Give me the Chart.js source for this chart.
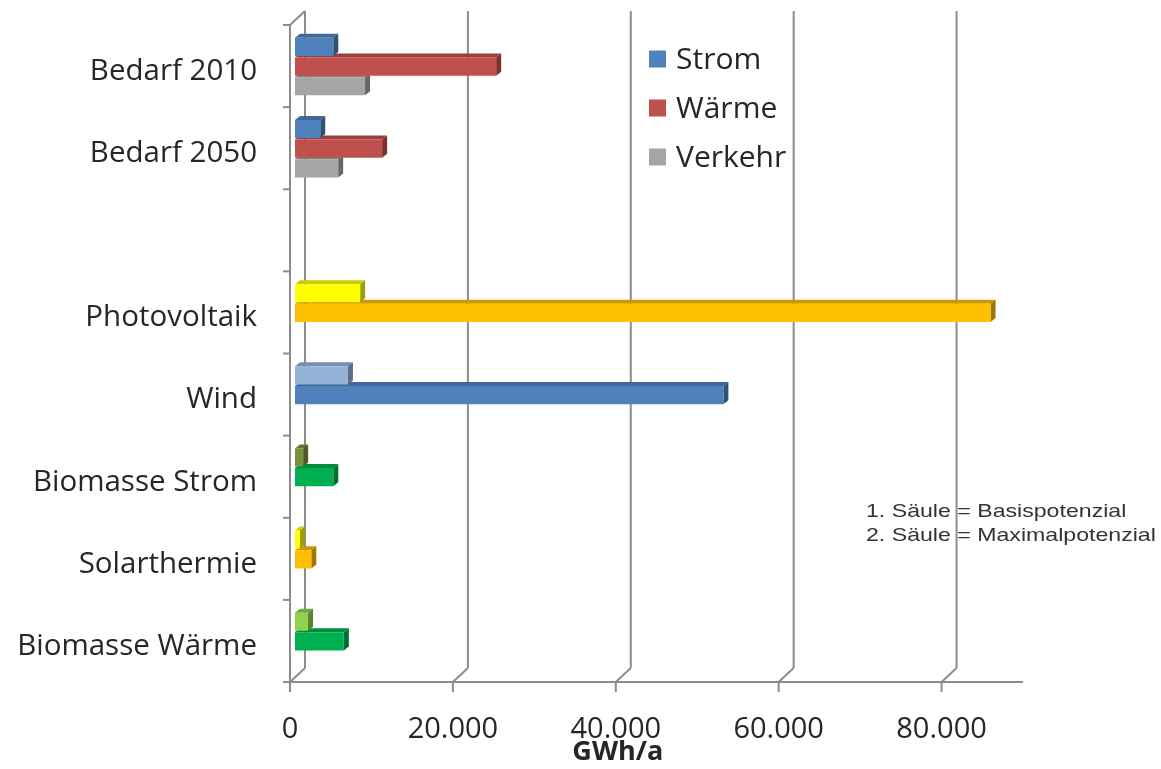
<!DOCTYPE html>
<html>
<head>
<meta charset="utf-8">
<script src="https://cdn.jsdelivr.net/npm/chart.js@4.4.1/dist/chart.umd.min.js"></script>
<style>
  html, body { margin: 0; padding: 0; background: #fff; }
  canvas { display: block; }
</style>
</head>
<body>
<canvas id="c" width="1161" height="769"></canvas>
<script>
// Energiebedarf und Erzeugungspotenziale in GWh/a
const categories = ['Bedarf 2010', 'Bedarf 2050', '', 'Photovoltaik', 'Wind',
                    'Biomasse Strom', 'Solarthermie', 'Biomasse Wärme'];
const strom            = [4700, 3100, null, null, null, null, null, null];
const waerme           = [24700, 10700, null, null, null, null, null, null];
const verkehr          = [8600, 5300, null, null, null, null, null, null];
const basispotenzial   = [null, null, null, 8000, 6500, 1000, 600, 1600];
const maximalpotenzial = [null, null, null, 85400, 52600, 4700, 2000, 6000];
const xTicks = [0, 20000, 40000, 60000, 80000];
const xMax = 90000;
const noteLines = ['1. Säule = Basispotenzial', '2. Säule = Maximalpotenzial'];

// colours per bar for the potential rows
const basisColors = [null, null, null, '#ffff00', '#95b3d7', '#77933c', '#ffff00', '#92d050'];
const maxColors   = [null, null, null, '#ffc000', '#4f81bd', '#00b050', '#ffc000', '#00b050'];

const FONT = '"Open Sans", Lato, sans-serif';
const TEXT = '#262626';
const AXIS = '#8c8c8c';

// depth of the bar bodies and of the chart box (relative to the bar plane)
const BAR_D = { dx: 5, dy: -4 };
const FRONT = { dx: -5, dy: -0.5 };
const BACK  = { dx: 10, dy: -14.5 };

function shade(hex, f) {
  const n = parseInt(hex.slice(1), 16);
  const r = Math.round(((n >> 16) & 255) * f);
  const g = Math.round(((n >> 8) & 255) * f);
  const b = Math.round((n & 255) * f);
  return `rgb(${r},${g},${b})`;
}

// walls, floor and axes of the 3D box
const boxPlugin = {
  id: 'box3d',
  beforeDatasetsDraw(chart) {
    const { ctx, chartArea: a, scales: { x } } = chart;
    ctx.save();
    ctx.strokeStyle = AXIS;
    ctx.lineWidth = 2;
    const line = (x1, y1, x2, y2) => {
      ctx.beginPath(); ctx.moveTo(x1, y1); ctx.lineTo(x2, y2); ctx.stroke();
    };
    // back wall gridlines and floor diagonals
    xTicks.forEach(v => {
      const px = x.getPixelForValue(v);
      line(px + BACK.dx, a.top + BACK.dy, px + BACK.dx, a.bottom + BACK.dy);
      line(px + BACK.dx, a.bottom + BACK.dy, px + FRONT.dx, a.bottom + FRONT.dy);
    });
    // left wall
    const lf = a.left + FRONT.dx;
    line(lf, a.top + FRONT.dy, lf, a.bottom + FRONT.dy);
    line(lf, a.top + FRONT.dy, a.left + BACK.dx, a.top + BACK.dy);
    // front value axis
    const bf = a.bottom + FRONT.dy;
    line(lf, bf, x.getPixelForValue(xMax) + FRONT.dx, bf);
    xTicks.forEach(v => {
      const px = x.getPixelForValue(v) + FRONT.dx;
      line(px, bf, px, bf + 10);
    });
    // category tick marks
    const step = (a.bottom - a.top) / categories.length;
    for (let i = 0; i <= categories.length; i++) {
      const py = a.top + i * step + FRONT.dy;
      line(lf - 7, py, lf, py);
    }
    ctx.restore();
  }
};

// top and side faces of each bar, lower bars first
const barBodyPlugin = {
  id: 'barBody',
  beforeDatasetsDraw(chart) {
    const ctx = chart.ctx;
    ctx.save();
    const metas = chart.getSortedVisibleDatasetMetas().slice().reverse();
    metas.forEach(meta => {
      const ds = chart.data.datasets[meta.index];
      meta.data.forEach((el, i) => {
        if (ds.data[i] == null) return;
        const { x, y, base, height } = el.getProps(['x', 'y', 'base', 'height'], true);
        const top = y - height / 2, bot = y + height / 2;
        const col = Array.isArray(ds.backgroundColor) ? ds.backgroundColor[i] : ds.backgroundColor;
        ctx.fillStyle = shade(col, 0.8);
        ctx.beginPath();
        ctx.moveTo(base, top); ctx.lineTo(x, top);
        ctx.lineTo(x + BAR_D.dx, top + BAR_D.dy); ctx.lineTo(base + BAR_D.dx, top + BAR_D.dy);
        ctx.closePath(); ctx.fill();
        ctx.fillStyle = shade(col, 0.62);
        ctx.beginPath();
        ctx.moveTo(x, top); ctx.lineTo(x + BAR_D.dx, top + BAR_D.dy);
        ctx.lineTo(x + BAR_D.dx, bot + BAR_D.dy); ctx.lineTo(x, bot);
        ctx.closePath(); ctx.fill();
      });
    });
    ctx.restore();
  }
};

// legend, axis title and note
const textPlugin = {
  id: 'texts',
  afterDraw(chart) {
    const { ctx, scales: { x } } = chart;
    ctx.save();
    // legend for the demand series
    const legendSets = chart.data.datasets.filter(d => !d.potential);
    ctx.font = `30px ${FONT}`;
    ctx.textBaseline = 'middle';
    ctx.textAlign = 'left';
    legendSets.forEach((d, i) => {
      const cy = 59 + i * 49;
      ctx.fillStyle = d.backgroundColor;
      ctx.fillRect(649, cy - 8.5, 17, 17);
      ctx.fillStyle = TEXT;
      ctx.fillText(d.label, 676, cy + 1);
    });
    // axis title
    ctx.font = `bold 27px ${FONT}`;
    ctx.textAlign = 'center';
    ctx.fillText('GWh/a', x.getPixelForValue(40000) - 3, 752);
    // note, set a little wide
    ctx.font = '18.5px "Liberation Sans", Arial, sans-serif';
    ctx.textAlign = 'left';
    ctx.fillStyle = '#333';
    noteLines.forEach((t, i) => {
      ctx.save();
      ctx.translate(866, 512 + i * 24);
      ctx.scale(1.25, 1);
      ctx.fillText(t, 0, 0);
      ctx.restore();
    });
    ctx.restore();
  }
};

new Chart(document.getElementById('c'), {
  type: 'bar',
  data: {
    labels: categories,
    datasets: [
      { label: 'Strom', data: strom, backgroundColor: '#4f81bd', stack: 's1' },
      { label: 'Basispotenzial', data: basispotenzial, backgroundColor: basisColors, stack: 's1', potential: true },
      { label: 'Wärme', data: waerme, backgroundColor: '#c0504d', stack: 's2' },
      { label: 'Maximalpotenzial', data: maximalpotenzial, backgroundColor: maxColors, stack: 's2', potential: true },
      { label: 'Verkehr', data: verkehr, backgroundColor: '#a5a5a5', stack: 's3' }
    ]
  },
  options: {
    indexAxis: 'y',
    responsive: false,
    animation: false,
    events: [],
    categoryPercentage: 0.72,
    barPercentage: 0.92,
    layout: { padding: { left: 0, right: 133, top: 25.5, bottom: 26.5 } },
    plugins: { legend: { display: false }, tooltip: { enabled: false } },
    scales: {
      x: {
        min: 0, max: xMax,
        grid: { display: false, drawTicks: false },
        border: { display: false },
        afterBuildTicks: s => { s.ticks = xTicks.map(v => ({ value: v })); },
        ticks: {
          padding: 30, labelOffset: -5, color: TEXT, maxRotation: 0,
          font: { family: FONT, size: 29 },
          callback: v => v.toLocaleString('de-DE')
        },
        afterFit: s => { s.height = 60; s.paddingLeft = 0; s.paddingRight = 0; }
      },
      y: {
        grid: { display: false, drawTicks: false },
        border: { display: false },
        ticks: { padding: 38, labelOffset: 5, color: TEXT, autoSkip: false, font: { family: FONT, size: 29.5 } },
        afterFit: s => { s.width = 295; s.paddingTop = 0; s.paddingBottom = 0; }
      }
    }
  },
  plugins: [boxPlugin, barBodyPlugin, textPlugin]
});
</script>
</body>
</html>
